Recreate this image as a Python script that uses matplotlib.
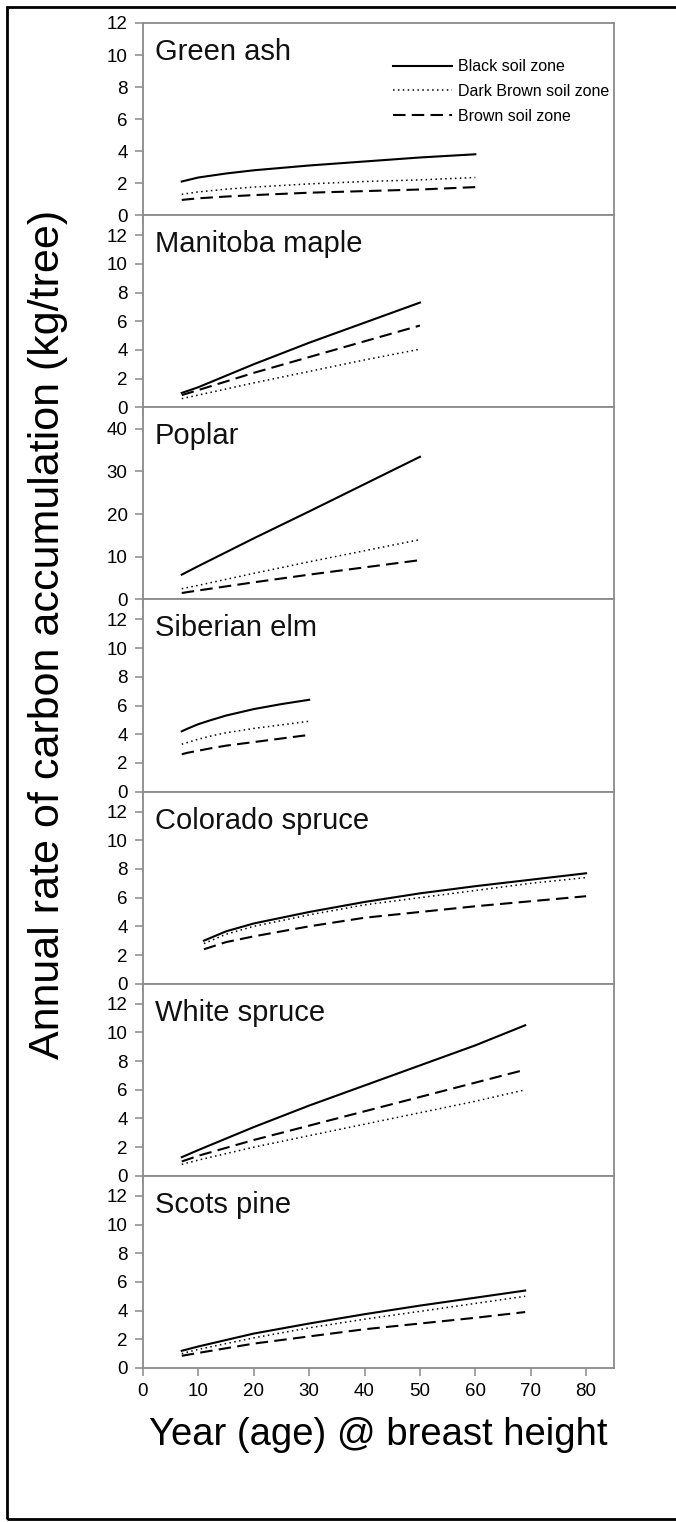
import matplotlib
matplotlib.use("Agg")
import matplotlib.pyplot as plt
from matplotlib.patches import Rectangle

plt.rcParams["font.family"] = ["Liberation Sans", "DejaVu Sans"]

# species panels, top to bottom
species = ["Green ash", "Manitoba maple", "Poplar", "Siberian elm",
           "Colorado spruce", "White spruce", "Scots pine"]

# ages (years at breast height) for each species
ages = [
    [7, 10, 15, 20, 30, 40, 50, 60],
    [7, 10, 20, 30, 40, 50],
    [7, 10, 20, 30, 40, 50],
    [7, 8, 10, 12, 15, 20, 25, 30],
    [11, 15, 20, 30, 40, 50, 60, 70, 80],
    [7, 10, 20, 30, 40, 50, 60, 69],
    [7, 10, 20, 30, 40, 50, 60, 69],
]

# annual carbon accumulation (kg/tree), by soil zone
black_zone = [
    [2.1, 2.35, 2.6, 2.8, 3.1, 3.35, 3.6, 3.8],
    [1.0, 1.4, 3.0, 4.5, 5.9, 7.3],
    [5.8, 7.8, 14.3, 20.6, 27.0, 33.4],
    [4.2, 4.38, 4.7, 4.95, 5.3, 5.75, 6.1, 6.4],
    [3.0, 3.65, 4.2, 5.0, 5.7, 6.3, 6.8, 7.25, 7.7],
    [1.3, 1.8, 3.4, 4.9, 6.3, 7.7, 9.1, 10.5],
    [1.2, 1.5, 2.4, 3.1, 3.75, 4.35, 4.9, 5.4],
]
dark_brown_zone = [
    [1.3, 1.45, 1.62, 1.75, 1.95, 2.1, 2.2, 2.35],
    [0.6, 0.85, 1.7, 2.5, 3.3, 4.05],
    [2.5, 3.3, 6.1, 8.8, 11.4, 14.0],
    [3.3, 3.42, 3.65, 3.85, 4.1, 4.4, 4.65, 4.9],
    [2.8, 3.45, 4.0, 4.8, 5.5, 6.0, 6.5, 7.0, 7.4],
    [0.8, 1.1, 2.0, 2.8, 3.6, 4.4, 5.2, 6.0],
    [1.0, 1.3, 2.1, 2.8, 3.4, 3.95, 4.5, 5.0],
]
brown_zone = [
    [0.95, 1.05, 1.16, 1.25, 1.4, 1.5, 1.6, 1.75],
    [0.85, 1.2, 2.4, 3.5, 4.6, 5.7],
    [1.5, 2.1, 4.0, 5.8, 7.5, 9.2],
    [2.6, 2.7, 2.85, 3.0, 3.2, 3.45, 3.7, 3.95],
    [2.4, 2.9, 3.3, 4.0, 4.6, 5.0, 5.4, 5.75, 6.1],
    [1.0, 1.4, 2.5, 3.5, 4.5, 5.5, 6.5, 7.4],
    [0.85, 1.05, 1.7, 2.2, 2.7, 3.1, 3.5, 3.9],
]

zone_names = ["Black soil zone", "Dark Brown soil zone", "Brown soil zone"]
y_tops = [12, 13.4, 45, 13.4, 13.4, 13.4, 13.4]
y_ticks = [range(0, 13, 2), range(0, 13, 2), range(0, 41, 10), range(0, 13, 2),
           range(0, 13, 2), range(0, 13, 2), range(0, 13, 2)]
x_ticks = range(0, 81, 10)

fig, axes = plt.subplots(7, 1, sharex=True, figsize=(6.76, 15.22), dpi=100)
fig.subplots_adjust(left=0.2115, right=0.908, top=0.9849, bottom=0.1012, hspace=0)

spine_grey = "#8a8a8a"
for i, ax in enumerate(axes):
    ax.plot(ages[i], black_zone[i], color="black", lw=1.5, label=zone_names[0])
    ax.plot(ages[i], dark_brown_zone[i], color="black", lw=1.1,
            linestyle=(0, (1, 2.2)), label=zone_names[1])
    ax.plot(ages[i], brown_zone[i], color="black", lw=1.5,
            linestyle=(0, (6, 3)), label=zone_names[2])

    ax.set_ylim(0, y_tops[i])
    ax.set_yticks(list(y_ticks[i]))
    ax.set_xlim(0, 85)
    ax.set_xticks(list(x_ticks))
    for side in ["left", "right", "top", "bottom"]:
        ax.spines[side].set_color(spine_grey)
        ax.spines[side].set_linewidth(1.3)
    ax.tick_params(axis="both", direction="out", length=6, width=1.1,
                   color=spine_grey, labelsize=13.5, pad=5)
    ax.text(0.025, 0.807, species[i], transform=ax.transAxes, fontsize=21,
            va="baseline", ha="left", color="#111111")

axes[0].legend(loc="upper right", bbox_to_anchor=(0.99, 0.81), frameon=False,
               fontsize=11.5, handlelength=3.7, handletextpad=0.35,
               labelspacing=0.6, borderpad=0, borderaxespad=0)

axes[-1].set_xlabel("Year (age) @ breast height", fontsize=27.5, labelpad=12)
fig.text(48 / 676, 1 - 634 / 1522, "Annual rate of carbon accumulation (kg/tree)",
         rotation=90, fontsize=31, ha="center", va="center")

# outer frame round the whole figure
fig.patches.append(Rectangle((7 / 676, 1 - 1519 / 1522), 1.2, 1512 / 1522,
                             transform=fig.transFigure, fill=False,
                             edgecolor="black", linewidth=2))

fig.savefig("out.png", dpi=100)
